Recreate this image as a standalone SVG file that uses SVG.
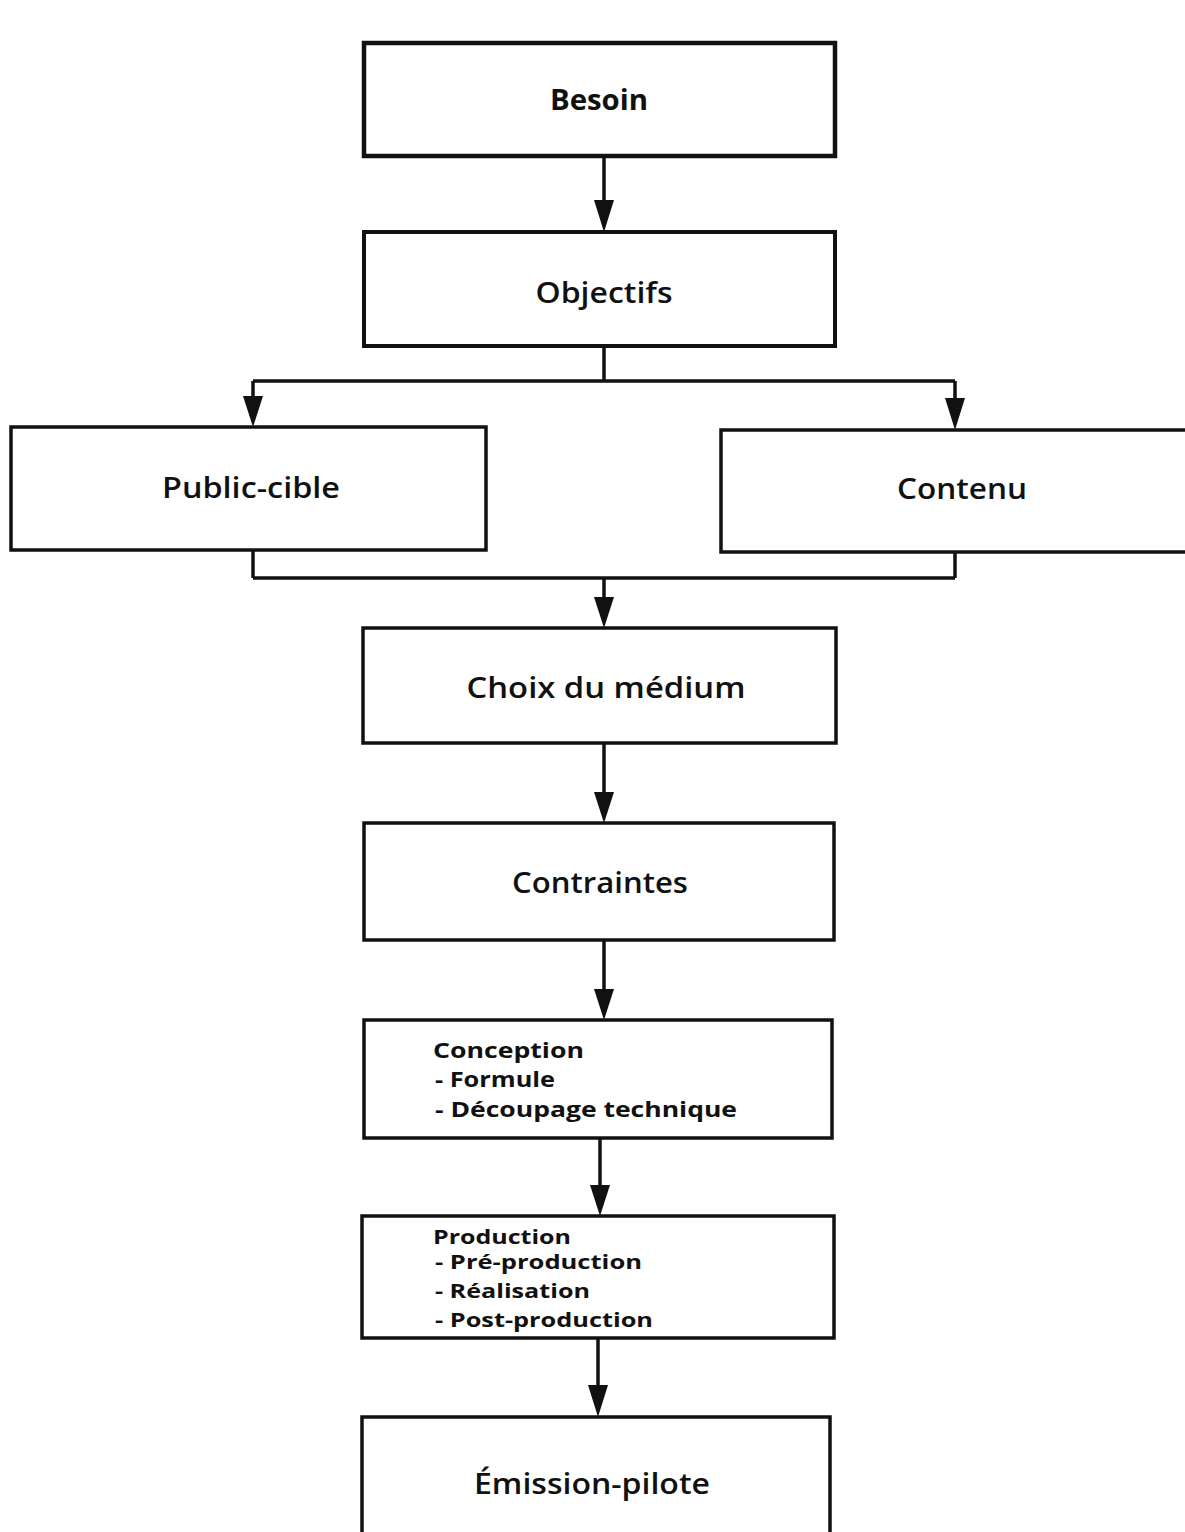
<svg xmlns="http://www.w3.org/2000/svg" width="1185" height="1532" viewBox="0 0 1185 1532">
<style>
.box{fill:#fff;stroke:#111;stroke-width:3.5}
.t{font-family:"Open Sans","Liberation Sans",sans-serif;font-size:28px;font-weight:600;fill:#111;text-anchor:middle}
.b{font-weight:bold}
.l{font-family:"Open Sans","Liberation Sans",sans-serif;font-size:22px;font-weight:bold;fill:#111}
.p{font-size:20px}
.c{fill:none;stroke:#111;stroke-width:3.5}
</style>
<rect width="1185" height="1532" fill="#fff"/>
<g id="connectors">
<path class="c" d="M604,156 V200" />
<path d="M594,200 L614,200 L604,232 Z" fill="#111"/>
<path class="c" d="M604,346 V381 M253,381 H955 M253,381 V396 M955,381 V398"/>
<path d="M243,396 L263,396 L253,427 Z" fill="#111"/>
<path d="M945,398 L965,398 L955,430 Z" fill="#111"/>
<path class="c" d="M253,550 V578 M955,552 V578 M253,578 H955 M604,578 V598"/>
<path d="M594,597 L614,597 L604,628 Z" fill="#111"/>
<path class="c" d="M604,743 V793"/>
<path d="M594,792 L614,792 L604,823 Z" fill="#111"/>
<path class="c" d="M604,940 V990"/>
<path d="M594,989 L614,989 L604,1020 Z" fill="#111"/>
<path class="c" d="M600,1138 V1186"/>
<path d="M590,1185 L610,1185 L600,1216 Z" fill="#111"/>
<path class="c" d="M598,1338 V1386"/>
<path d="M588,1385 L608,1385 L598,1417 Z" fill="#111"/>
</g>
<g id="besoin">
<rect class="box" x="364" y="43" width="471" height="113" style="stroke-width:4.5"/>
<text class="t b" x="599" y="110" textLength="98" lengthAdjust="spacingAndGlyphs">Besoin</text>
</g>
<g id="objectifs">
<rect class="box" x="364" y="232" width="471" height="114" style="stroke-width:4"/>
<text class="t" x="604" y="303" textLength="137" lengthAdjust="spacingAndGlyphs">Objectifs</text>
</g>
<g id="public-cible">
<rect class="box" x="11" y="427" width="475" height="123"/>
<text class="t" x="251" y="498" textLength="178" lengthAdjust="spacingAndGlyphs">Public-cible</text>
</g>
<g id="contenu">
<rect class="box" x="721" y="430" width="470" height="122"/>
<text class="t" x="962" y="499" textLength="130" lengthAdjust="spacingAndGlyphs">Contenu</text>
</g>
<g id="choix">
<rect class="box" x="363" y="628" width="473" height="115"/>
<text class="t" x="606" y="698" textLength="279" lengthAdjust="spacingAndGlyphs">Choix du médium</text>
</g>
<g id="contraintes">
<rect class="box" x="364" y="823" width="470" height="117"/>
<text class="t" x="600" y="893" textLength="176" lengthAdjust="spacingAndGlyphs">Contraintes</text>
</g>
<g id="conception">
<rect class="box" x="364" y="1020" width="468" height="118"/>
<text class="l" x="433" y="1058" textLength="151" lengthAdjust="spacingAndGlyphs">Conception</text>
<text class="l" x="435" y="1087" textLength="120" lengthAdjust="spacingAndGlyphs">- Formule</text>
<text class="l" x="435" y="1117" textLength="302" lengthAdjust="spacingAndGlyphs">- Découpage technique</text>
</g>
<g id="production">
<rect class="box" x="362" y="1216" width="472" height="122"/>
<text class="l p" x="433" y="1244" textLength="138" lengthAdjust="spacingAndGlyphs">Production</text>
<text class="l p" x="435" y="1269" textLength="207" lengthAdjust="spacingAndGlyphs">- Pré-production</text>
<text class="l p" x="435" y="1298" textLength="155" lengthAdjust="spacingAndGlyphs">- Réalisation</text>
<text class="l p" x="435" y="1327" textLength="218" lengthAdjust="spacingAndGlyphs">- Post-production</text>
</g>
<g id="emission">
<rect class="box" x="362" y="1417" width="468" height="125"/>
<text class="t" x="592" y="1494" textLength="236" lengthAdjust="spacingAndGlyphs">Émission-pilote</text>
</g>
</svg>
